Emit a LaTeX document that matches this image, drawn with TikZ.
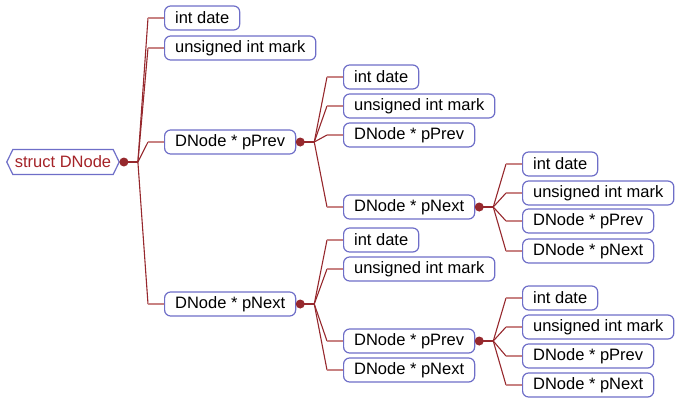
\documentclass[tikz,border=0pt]{standalone}
\usepackage{fontspec}
\setmainfont{Liberation Sans}
\usetikzlibrary{shapes.symbols}
\definecolor{boxc}{RGB}{110,110,200}
\definecolor{dkc}{RGB}{150,40,45}
\definecolor{ltc}{RGB}{200,130,130}
\definecolor{rootc}{RGB}{165,35,40}
\tikzset{
  item/.style={draw=boxc, line width=1.2pt, rounded corners=6pt, fill=white,
    minimum height=24pt, inner xsep=10.5pt, inner ysep=0pt, anchor=west,
    font=\fontsize{16.5}{18}\selectfont, text=black},
  rootbox/.style={signal, signal to=west and east, signal pointer angle=128,
    draw=boxc, line width=1.2pt, fill=white, minimum height=25pt, inner xsep=2pt,
    inner ysep=0pt, font=\fontsize{16.5}{18}\selectfont, text=rootc},
  dk/.style={draw=dkc, line width=1.1pt},
  lt/.style={draw=ltc, line width=1.6pt},
  stem/.style={draw=dkc, line width=2.4pt},
  dotc/.style={circle, fill=dkc, inner sep=0pt, minimum size=9pt},
}
\newcommand{\hub}[2]{% parent, name prefix
  \node[dotc] (#2dot) at ([xshift=4pt]#1.east) {};
  \coordinate (#2fork) at ([xshift=14pt]#2dot.center);
  \draw[stem] (#2dot.center) -- (#2fork);
}
\newcommand{\conn}[2]{% fork, child
  \draw[dk] (#1) -- ([xshift=-16pt]#2.west);
  \draw[lt] ([xshift=-16pt]#2.west) -- (#2.west);
}
\begin{document}
\begin{tikzpicture}[x=1pt,y=-1pt]
\useasboundingbox (0,0) rectangle (679,405);
% root
\node[rootbox] (root) at (63,162) {struct DNode};
% level 1
\node[item] (a1) at (164,18) {int date};
\node[item] (a2) at (164,48) {unsigned int mark};
\node[item] (a3) at (164,142) {DNode * pPrev};
\node[item] (a4) at (164,304) {DNode * pNext};
% level 2 under a3
\node[item] (b1) at (343,77) {int date};
\node[item] (b2) at (343,106) {unsigned int mark};
\node[item] (b3) at (343,135) {DNode * pPrev};
\node[item] (b4) at (343,207) {DNode * pNext};
% level 3 under b4
\node[item] (c1) at (522,164) {int date};
\node[item] (c2) at (522,193) {unsigned int mark};
\node[item] (c3) at (522,221) {DNode * pPrev};
\node[item] (c4) at (522,251) {DNode * pNext};
% level 2 under a4
\node[item] (d1) at (343,240) {int date};
\node[item] (d2) at (343,269) {unsigned int mark};
\node[item] (d3) at (343,341) {DNode * pPrev};
\node[item] (d4) at (343,370) {DNode * pNext};
% level 3 under d3
\node[item] (e1) at (522,298) {int date};
\node[item] (e2) at (522,327) {unsigned int mark};
\node[item] (e3) at (522,356) {DNode * pPrev};
\node[item] (e4) at (522,385) {DNode * pNext};
% connectors
\hub{root}{r}
\conn{rfork}{a1}\conn{rfork}{a2}\conn{rfork}{a3}\conn{rfork}{a4}
\hub{a3}{p}
\conn{pfork}{b1}\conn{pfork}{b2}\conn{pfork}{b3}\conn{pfork}{b4}
\hub{b4}{q}
\conn{qfork}{c1}\conn{qfork}{c2}\conn{qfork}{c3}\conn{qfork}{c4}
\hub{a4}{s}
\conn{sfork}{d1}\conn{sfork}{d2}\conn{sfork}{d3}\conn{sfork}{d4}
\hub{d3}{t}
\conn{tfork}{e1}\conn{tfork}{e2}\conn{tfork}{e3}\conn{tfork}{e4}
\end{tikzpicture}
\end{document}
